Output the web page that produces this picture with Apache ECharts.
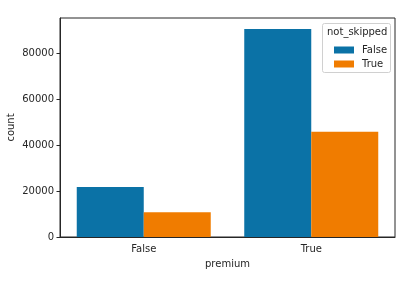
<!DOCTYPE html>
<html><head><meta charset="utf-8">
<script src="https://cdn.jsdelivr.net/npm/echarts@6/dist/echarts.min.js"></script>
<style>html,body{margin:0;padding:0;background:#fff}#c{width:413px;height:283px}</style>
</head><body><div id="c"></div>
<script>
const categories = ['False', 'True'];
const seriesNames = ['False', 'True'];
const notSkippedFalse = [21800, 90600];
const notSkippedTrue = [10800, 45800];
const yTicks = [0, 20000, 40000, 60000, 80000];

const colors = ['#0b72a6', '#f07c00'];
const font = 'DejaVu Sans';
const chart = echarts.init(document.getElementById('c'), null, {renderer: 'canvas'});
chart.setOption({
  animation: false,
  textStyle: {fontFamily: font},
  grid: {left: 60, right: 18, top: 18, bottom: 46, containLabel: false, outerBoundsMode: 'none',
    show: true, borderColor: '#262626', borderWidth: 1, backgroundColor: 'transparent'},
  legend: {
    orient: 'vertical', left: 329, top: 40, itemWidth: 20, itemHeight: 7, itemGap: 4,
    icon: 'rect', data: seriesNames,
    textStyle: {fontFamily: font, fontSize: 10, color: '#262626', padding: [0,0,0,3]}
  },
  graphic: [
    {type: 'rect', shape: {x: 322.5, y: 23.5, width: 68, height: 49, r: 2}, style: {fill: 'rgba(255,255,255,0.8)', stroke: '#d0d0d0', lineWidth: 1}, z: 0},
    {type: 'text', left: 327, top: 27, style: {text: 'not_skipped', font: '10px "DejaVu Sans"', fill: '#262626'}, z: 10}
  ],
  xAxis: {
    type: 'category', data: categories,
    name: 'premium', nameLocation: 'middle', nameGap: 22, nameMoveOverlap: false,
    nameTextStyle: {fontFamily: font, fontSize: 10, color: '#262626'},
    axisLine: {lineStyle: {color: '#262626', width: 1}},
    axisTick: {alignWithLabel: true, length: 3.5, lineStyle: {color: '#262626'}},
    axisLabel: {fontFamily: font, fontSize: 10, color: '#262626', margin: 7},
    splitLine: {show: false}
  },
  yAxis: {
    type: 'value', min: 0, max: 95400, interval: 20000,
    name: 'count', nameLocation: 'middle', nameGap: 44, nameRotate: 90, nameMoveOverlap: false,
    nameTextStyle: {fontFamily: font, fontSize: 10, color: '#262626'},
    axisLine: {show: true, lineStyle: {color: '#262626', width: 1}},
    axisTick: {show: true, length: 3.5, lineStyle: {color: '#262626'}},
    axisLabel: {fontFamily: font, fontSize: 10, color: '#262626', margin: 6, showMaxLabel: false,
      formatter: v => yTicks.includes(v) ? String(v) : ''},
    splitLine: {show: false}
  },
  series: [
    {name: seriesNames[0], type: 'bar', data: notSkippedFalse, itemStyle: {color: colors[0]}, barGap: '0%', barCategoryGap: '20%'},
    {name: seriesNames[1], type: 'bar', data: notSkippedTrue, itemStyle: {color: colors[1]}, barGap: '0%', barCategoryGap: '20%'}
  ]
});
</script></body></html>
